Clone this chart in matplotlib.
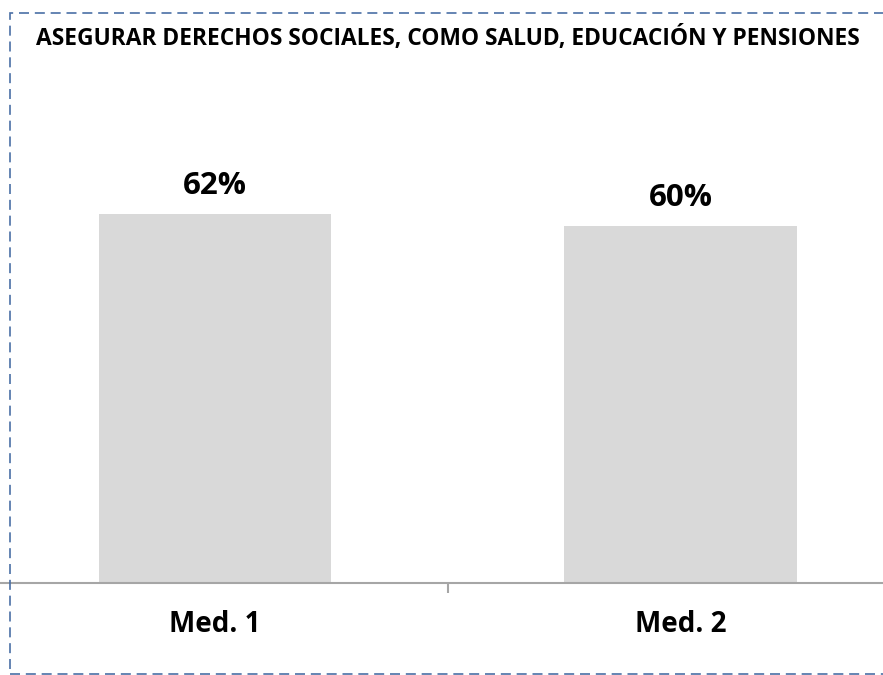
import matplotlib.pyplot as plt
from matplotlib.patches import Rectangle

# data
categories = ['Med. 1', 'Med. 2']
values = [62, 60]
title = 'ASEGURAR DERECHOS SOCIALES, COMO SALUD, EDUCACIÓN Y PENSIONES'

plt.rcParams['font.family'] = ['Open Sans', 'DejaVu Sans']

W, H = 883, 675
fig = plt.figure(figsize=(W / 100, H / 100), dpi=100)

# axes placed in pixel terms: baseline at y=583, category slots ~465 px wide
left_px, right_px = -17.5, 913
bottom_px = 583
ymax = 70
px_per_unit = 5.95
top_px = bottom_px - ymax * px_per_unit
ax = fig.add_axes([left_px / W, 1 - bottom_px / H,
                   (right_px - left_px) / W, (bottom_px - top_px) / H])

x = range(len(categories))
ax.bar(x, values, width=0.5, color='#d9d9d9')
ax.set_xlim(-0.5, 1.5)
ax.set_ylim(0, ymax)

for i, v in enumerate(values):
    ax.annotate(f'{v}%', (i, v), xytext=(0, 14.5), textcoords='offset points',
                ha='center', va='baseline', fontsize=22.5, fontweight='bold',
                color='black')

for s in ['top', 'right', 'left']:
    ax.spines[s].set_visible(False)
ax.spines['bottom'].set_color('#a6a6a6')
ax.spines['bottom'].set_linewidth(1.5)
ax.set_yticks([])
ax.set_xticks([0.5])
ax.set_xticklabels([''])
ax.tick_params(axis='x', length=7, width=1.5, color='#a6a6a6')
for i, c in enumerate(categories):
    ax.text(i, -42 / px_per_unit, c, ha='center', va='center',
            fontsize=20, fontweight='bold', color='black')

fig.text(36 / W, 1 - 38 / H, title, ha='left', va='center',
         fontsize=16.4, fontweight='bold', color='black')

# dashed frame (right edge runs off the figure)
fig.patches.append(Rectangle((9.5 / W, 1 - 673.5 / H), 1.2, (673.5 - 12.5) / H,
                             transform=fig.transFigure, fill=False,
                             edgecolor='#4a6fa5', linewidth=1.2,
                             linestyle=(0, (6, 3.5))))

fig.savefig('out.png', dpi=100)
